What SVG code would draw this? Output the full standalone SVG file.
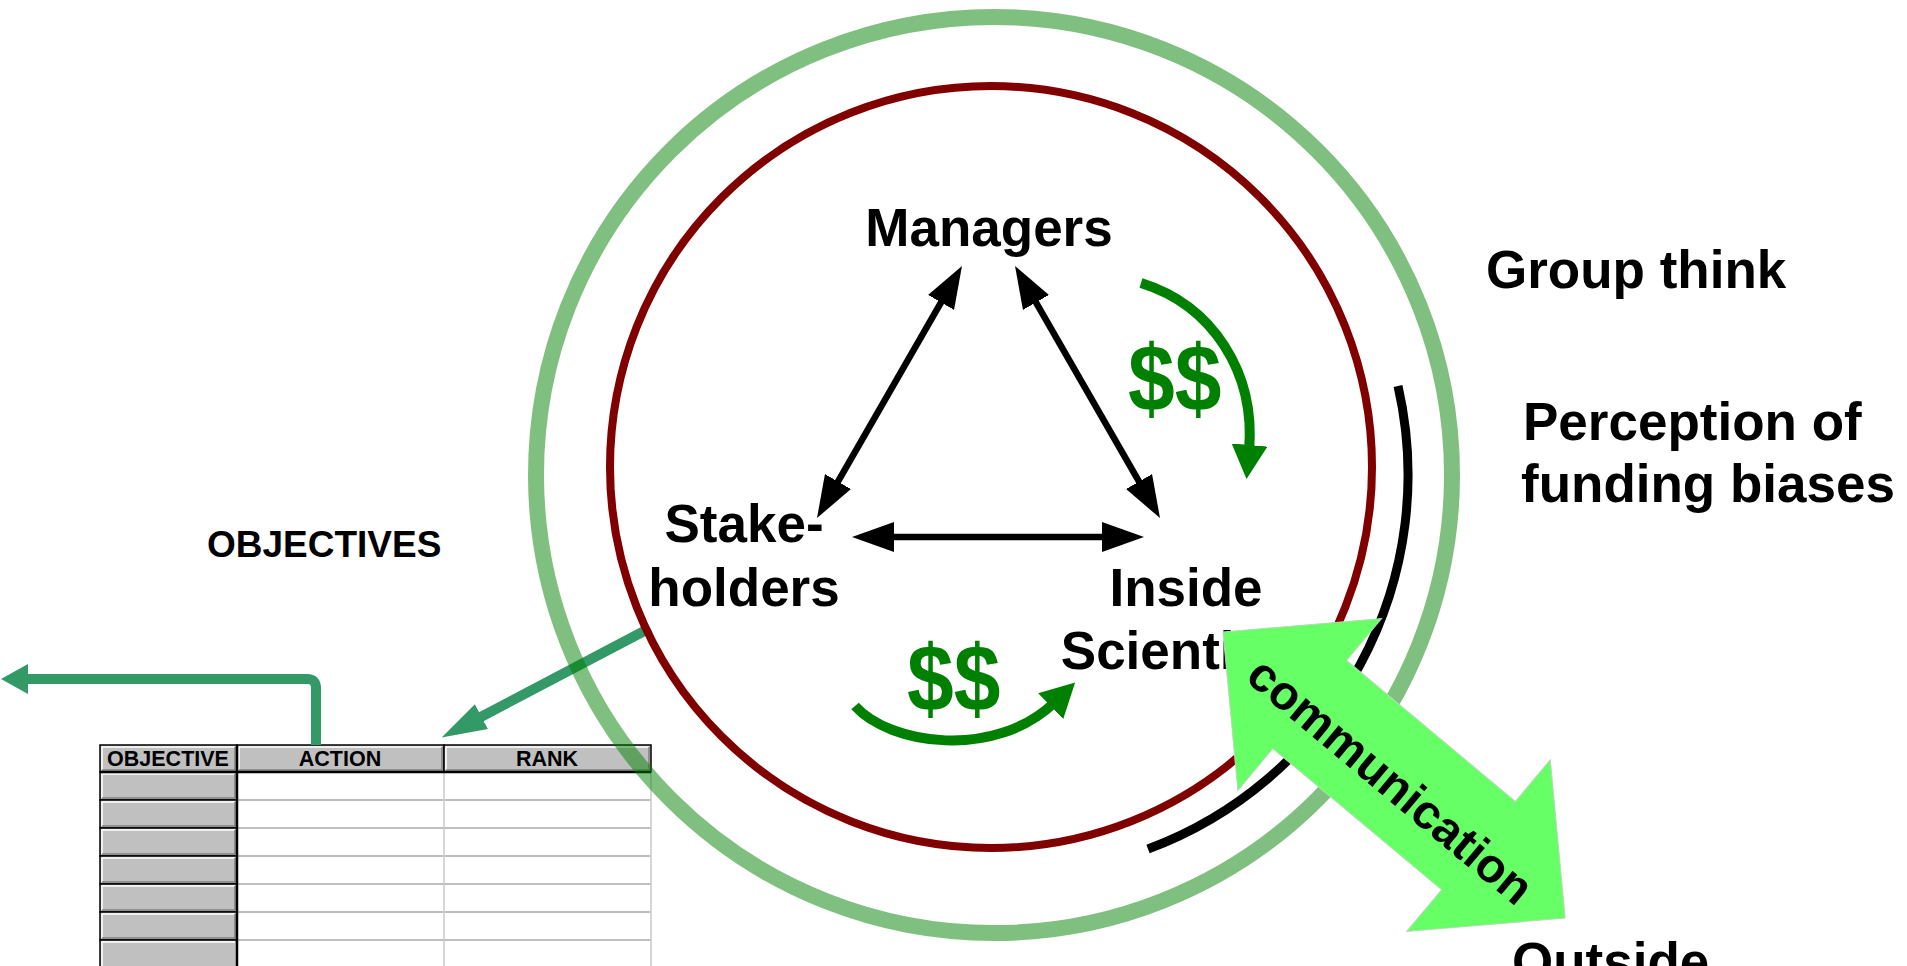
<svg xmlns="http://www.w3.org/2000/svg" width="1907" height="966" viewBox="0 0 1907 966">
<style>
text{font-family:"Liberation Sans",Arial,sans-serif;font-weight:bold;fill:#000}
.big{font-size:53px}
.mid{text-anchor:middle}
.th{font-size:21.5px;text-anchor:middle}
.blk{stroke:#000;stroke-width:6.5;fill:none}
.teal{stroke:#339966;stroke-width:10;fill:none}
.money{stroke:#008000;stroke-width:10;fill:none}
.dollar{font-size:84px;fill:#008000}
.cell{fill:#c0c0c0;stroke:#000;stroke-width:1.5}
.hl{stroke:#fff;stroke-width:1.5;fill:none}
.sh{stroke:#808080;stroke-width:1.5;fill:none}
.gridh{stroke:#a8a8a8;stroke-width:1.5}
.gridv{stroke:#c8c8c8;stroke-width:1.5}
</style>
<defs>
<marker id="ah" markerUnits="userSpaceOnUse" markerWidth="42" markerHeight="30" refX="30" refY="15" orient="auto-start-reverse"><path d="M0,0 L42,15 L0,30 z" fill="#000"/></marker>
<marker id="gh" markerUnits="userSpaceOnUse" markerWidth="36" markerHeight="36" refX="6" refY="18" orient="auto"><path d="M0,0 L34,18 L0,36 z" fill="#008000"/></marker>
<marker id="tah" markerUnits="userSpaceOnUse" markerWidth="45" markerHeight="28" refX="5" refY="14" orient="auto"><path d="M0,0 L45,14 L0,28 z" fill="#339966"/></marker>
<marker id="tah2" markerUnits="userSpaceOnUse" markerWidth="28" markerHeight="30" refX="1" refY="15" orient="auto"><path d="M0,0 L27,15 L0,30 z" fill="#339966"/></marker>
</defs>
<rect width="1907" height="966" fill="#fff"/>

<g id="objectives-table">
  <rect class="cell" x="100" y="745" width="137" height="27"/>
  <rect class="cell" x="237" y="745" width="207" height="27"/>
  <rect class="cell" x="444" y="745" width="207" height="27"/>
  <path class="hl" d="M102,770 V747 H235 M239,770 V747 H442 M446,770 V747 H649"/>
  <path class="sh" d="M102,770 H235 V747 M239,770 H442 V747 M446,770 H649 V747"/>
  <text class="th" x="168" y="766">OBJECTIVE</text>
  <text class="th" x="340" y="766">ACTION</text>
  <text class="th" x="547" y="766">RANK</text>
  <g>
    <line class="gridh" x1="237" y1="800" x2="651" y2="800"/>
    <line class="gridh" x1="237" y1="828" x2="651" y2="828"/>
    <line class="gridh" x1="237" y1="856" x2="651" y2="856"/>
    <line class="gridh" x1="237" y1="884" x2="651" y2="884"/>
    <line class="gridh" x1="237" y1="912" x2="651" y2="912"/>
    <line class="gridh" x1="237" y1="940" x2="651" y2="940"/>
    <line class="gridv" x1="444" y1="772" x2="444" y2="966"/>
    <line class="gridv" x1="651" y1="772" x2="651" y2="966"/>
  </g>
  <g>
    <rect class="cell" x="100" y="772" width="137" height="28"/>
    <rect class="cell" x="100" y="800" width="137" height="28"/>
    <rect class="cell" x="100" y="828" width="137" height="28"/>
    <rect class="cell" x="100" y="856" width="137" height="28"/>
    <rect class="cell" x="100" y="884" width="137" height="28"/>
    <rect class="cell" x="100" y="912" width="137" height="28"/>
    <rect class="cell" x="100" y="940" width="137" height="28"/>
    <path class="hl" d="M102,798 V774 H235 M102,826 V802 H235 M102,854 V830 H235 M102,882 V858 H235 M102,910 V886 H235 M102,938 V914 H235 M102,966 V942 H235"/>
    <path class="sh" d="M102,798 H235 V774 M102,826 H235 V802 M102,854 H235 V830 M102,882 H235 V858 M102,910 H235 V886 M102,938 H235 V914"/>
  </g>
  <line x1="100" y1="772" x2="651" y2="772" stroke="#000" stroke-width="2.5"/>
  <line x1="237" y1="745" x2="237" y2="966" stroke="#000" stroke-width="2.5"/>
</g>

<g id="objectives-label"><text x="207" y="557" font-size="37">OBJECTIVES</text></g>

<g id="connectors">
  <line class="blk" x1="956" y1="276.4" x2="823" y2="507.6" marker-start="url(#ah)" marker-end="url(#ah)"/>
  <line class="blk" x1="1021" y1="276.4" x2="1154" y2="507.6" marker-start="url(#ah)" marker-end="url(#ah)"/>
  <line class="blk" x1="864" y1="537" x2="1132" y2="537" marker-start="url(#ah)" marker-end="url(#ah)"/>
  <path class="teal" d="M650,628 L477,719" marker-end="url(#tah)"/>
  <path class="teal" d="M316,745 V688 Q316,679 307,679 H27" marker-end="url(#tah2)"/>
</g>

<g id="rings">
  <circle cx="994" cy="475" r="458" fill="none" stroke="#008000" stroke-opacity="0.5" stroke-width="16"/>
  <circle cx="991" cy="467" r="381" fill="none" stroke="#800000" stroke-width="8"/>
  <path d="M1398,386 A399,399 0 0,1 1148,849" fill="none" stroke="#000" stroke-width="9"/>
</g>

<g id="managers"><text class="big mid" x="989" y="246">Managers</text></g>
<g id="stakeholders"><text class="big mid" x="744" y="542">Stake-</text><text class="big mid" x="744" y="606">holders</text></g>
<g id="inside-scientists"><text class="big mid" x="1186" y="606">Inside</text><text class="big mid" x="1186" y="669">Scientists</text></g>
<g id="group-think"><text class="big" x="1486" y="288">Group think</text></g>
<g id="perception"><text class="big" x="1523" y="440">Perception of</text><text class="big" x="1521" y="502">funding biases</text></g>
<g id="outside"><text class="big" x="1512" y="980">Outside</text></g>

<g id="money-top">
  <path class="money" d="M1141,283 C1212,305 1256,372 1249,451" marker-end="url(#gh)"/>
  <text class="dollar" transform="translate(1128,411) scale(1,1.12)">$$</text>
</g>
<g id="money-bottom">
  <path class="money" d="M855,706 C890,745 995,760 1055,702" marker-end="url(#gh)"/>
  <text class="dollar" transform="translate(907,711) scale(1,1.12)">$$</text>
</g>

<g id="communication" transform="translate(1223,632) rotate(39.9)">
  <polygon points="0,0 113,-112 113,-57.5 333,-57.5 333,-112 446,0 333,112 333,57.5 113,57.5 113,112" fill="#66ff66" stroke="#b8d8b8" stroke-width="1"/>
  <text x="224" y="23" text-anchor="middle" font-size="48">communication</text>
</g>
</svg>
